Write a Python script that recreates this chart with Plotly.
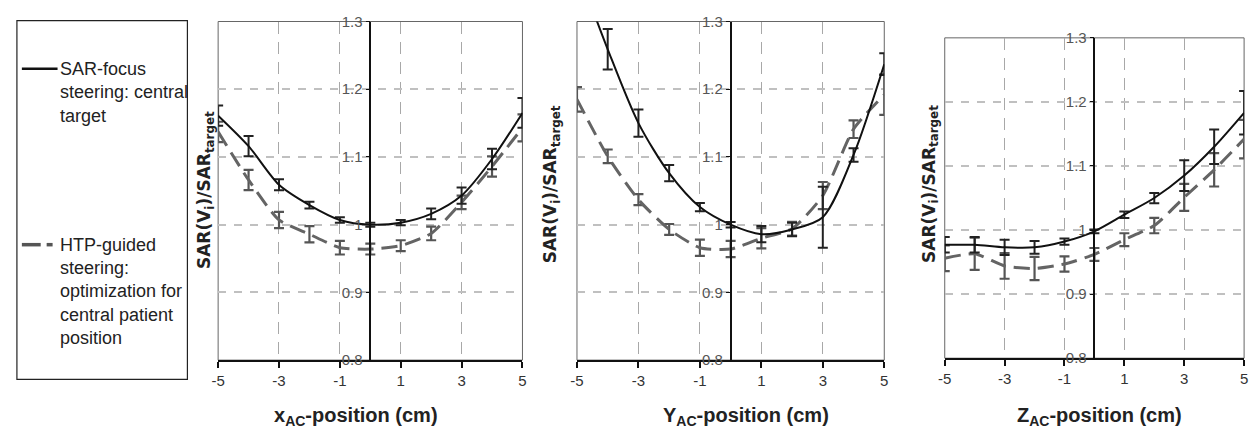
import plotly.graph_objects as go

W, H = 1259, 447

positions = [-5, -4, -3, -2, -1, 0, 1, 2, 3, 4, 5]
x_ticks = [-5, -3, -1, 1, 3, 5]
y_ticks = [0.8, 0.9, 1.0, 1.1, 1.2, 1.3]
y_tick_text = ["0.8", "0.9", "1", "1.1", "1.2", "1.3"]

# x-direction panel
x_focus = [1.161, 1.116, 1.059, 1.029, 1.007, 1.000, 1.003, 1.016, 1.043, 1.097, 1.165]
x_focus_err = [0.015, 0.015, 0.008, 0.005, 0.004, 0.003, 0.004, 0.008, 0.012, 0.015, 0.022]
x_htp = [1.137, 1.066, 1.007, 0.986, 0.966, 0.964, 0.969, 0.987, 1.033, 1.086, 1.143]
x_htp_err = [0.015, 0.015, 0.012, 0.012, 0.010, 0.008, 0.008, 0.010, 0.010, 0.015, 0.020]

# y-direction panel
y_focus = [1.38, 1.259, 1.150, 1.076, 1.026, 1.000, 0.986, 0.993, 1.011, 1.103, 1.237]
y_focus_err = [0.030, 0.030, 0.020, 0.012, 0.006, 0.004, 0.012, 0.010, 0.045, 0.010, 0.016]
y_htp = [1.185, 1.101, 1.037, 0.993, 0.966, 0.964, 0.980, 0.994, 1.043, 1.141, 1.192]
y_htp_err = [0.018, 0.010, 0.008, 0.008, 0.012, 0.012, 0.015, 0.010, 0.020, 0.013, 0.030]

# z-direction panel
z_focus = [0.977, 0.977, 0.973, 0.973, 0.982, 0.998, 1.024, 1.050, 1.085, 1.130, 1.183]
z_focus_err = [0.012, 0.012, 0.012, 0.010, 0.005, 0.003, 0.005, 0.008, 0.024, 0.027, 0.034]
z_htp = [0.956, 0.963, 0.944, 0.940, 0.947, 0.962, 0.985, 1.007, 1.051, 1.094, 1.142]
z_htp_err = [0.020, 0.025, 0.020, 0.018, 0.012, 0.010, 0.010, 0.012, 0.021, 0.026, 0.030]

x_titles = ["x<sub>AC</sub>-position (cm)", "Y<sub>AC</sub>-position (cm)", "Z<sub>AC</sub>-position (cm)"]
y_title = "SAR(V<sub>i</sub>)/SAR<sub>target</sub>"
legend_focus = ["SAR-focus", "steering: central", "target"]
legend_htp = ["HTP-guided", "steering:", "optimization for", "central patient", "position"]

FONT = "Liberation Sans, Arial, sans-serif"
WIDE = "DejaVu Sans, Verdana, sans-serif"

def px(x):
    return x / W

def py(y):
    return 1 - y / H

# panel pixel boxes (left, right, top, bottom)
boxes = [(213, 520, 13, 365), (575, 885, 13, 365), (946, 1248, 30, 363)]
ytitle_pos = [(201, 188), (549, 182), (931, 182)]
xtitle_x = [352, 746, 1102]

panels = [
    (x_focus, x_focus_err, x_htp, x_htp_err),
    (y_focus, y_focus_err, y_htp, y_htp_err),
    (z_focus, z_focus_err, z_htp, z_htp_err),
]

fig = go.Figure()
layout = dict(width=W, height=H, margin=dict(l=0, r=0, t=0, b=0),
              paper_bgcolor="white", plot_bgcolor="white", showlegend=False,
              shapes=[], annotations=[])

for i, ((fv, fe, hv, he), (l, r, t, b)) in enumerate(zip(panels, boxes)):
    sfx = "" if i == 0 else str(i + 1)
    xa, ya = "x" + sfx, "y" + sfx
    dom_x = [px(l), px(r)]
    dom_y = [py(b), py(t)]
    zero_pos = dom_x[0] + (dom_x[1] - dom_x[0]) * 0.5

    fig.add_trace(go.Scatter(
        x=positions, y=hv, mode="lines", xaxis=xa, yaxis=ya,
        line=dict(color="#646464", width=3, dash="16px,8px", shape="spline", smoothing=0.6),
        error_y=dict(type="data", array=he, color="#555555", thickness=2.2, width=5),
    ))
    fig.add_trace(go.Scatter(
        x=positions, y=fv, mode="lines", xaxis=xa, yaxis=ya,
        line=dict(color="#111111", width=2, shape="spline", smoothing=0.8),
        error_y=dict(type="data", array=fe, color="#222222", thickness=2, width=5),
    ))

    layout["xaxis" + sfx] = dict(
        domain=dom_x, anchor=ya, range=[-5, 5], tickvals=x_ticks,
        ticktext=[str(v) for v in x_ticks],
        showline=True, linecolor="#111", linewidth=2, ticks="outside", ticklen=6,
        tickwidth=1.5, tickcolor="#111", zeroline=False,
        showgrid=True, gridcolor="#a8a8a8", griddash="12px,8px", gridwidth=1,
        tickfont=dict(family=FONT, size=15, color="#333"),
    )
    layout["yaxis" + sfx] = dict(
        domain=dom_y, anchor="free", position=zero_pos, range=[0.8, 1.3],
        tickvals=y_ticks, ticktext=y_tick_text,
        showline=True, linecolor="#111", linewidth=1.5, ticks="outside", ticklen=4,
        tickwidth=1, tickcolor="#111", zeroline=False,
        showgrid=True, gridcolor="#c0c0c0", griddash="8px,8px", gridwidth=1.5,
        tickfont=dict(family=FONT, size=15, color="#555"),
    )
    layout["shapes"].append(dict(type="rect", xref="paper", yref="paper",
                                 x0=dom_x[0], x1=dom_x[1], y0=dom_y[0], y1=dom_y[1],
                                 line=dict(color="#666", width=1), layer="below"))
    layout["annotations"].append(dict(
        text="<b>" + x_titles[i] + "</b>", xref="paper", yref="paper", x=px(xtitle_x[i]),
        y=py(424), showarrow=False, xanchor="center", yanchor="middle",
        font=dict(family=FONT, size=20, color="#222"),
    ))
    tx, ty = ytitle_pos[i]
    layout["annotations"].append(dict(
        text="<b>" + y_title + "</b>", xref="paper", yref="paper", x=px(tx), y=py(ty),
        showarrow=False, xanchor="center", yanchor="middle", textangle=-90,
        font=dict(family=WIDE, size=17, color="#222"),
    ))

layout["shapes"].append(dict(type="rect", xref="paper", yref="paper",
                             x0=px(10), x1=px(182), y0=py(385), y1=py(12),
                             line=dict(color="#222", width=1.2)))
layout["shapes"].append(dict(type="line", xref="paper", yref="paper",
                             x0=px(15), x1=px(51), y0=py(62), y1=py(62),
                             line=dict(color="#111", width=2.5)))
layout["shapes"].append(dict(type="line", xref="paper", yref="paper",
                             x0=px(15), x1=px(34), y0=py(245), y1=py(245),
                             line=dict(color="#555", width=3.5)))
layout["shapes"].append(dict(type="line", xref="paper", yref="paper",
                             x0=px(40), x1=px(46), y0=py(245), y1=py(245),
                             line=dict(color="#555", width=3.5)))
for j, line in enumerate(legend_focus):
    layout["annotations"].append(dict(
        text=line, xref="paper", yref="paper", x=px(51), y=py(62 + j * 24.5),
        showarrow=False, xanchor="left", yanchor="middle",
        font=dict(family=FONT, size=18, color="#222")))
for j, line in enumerate(legend_htp):
    layout["annotations"].append(dict(
        text=line, xref="paper", yref="paper", x=px(51), y=py(245 + j * 24.3),
        showarrow=False, xanchor="left", yanchor="middle",
        font=dict(family=FONT, size=18, color="#222")))

fig.update_layout(**layout)
fig.write_html("out.html", config={"displayModeBar": False},
               post_script="document.body.style.margin='0';document.body.style.overflow='hidden';")
